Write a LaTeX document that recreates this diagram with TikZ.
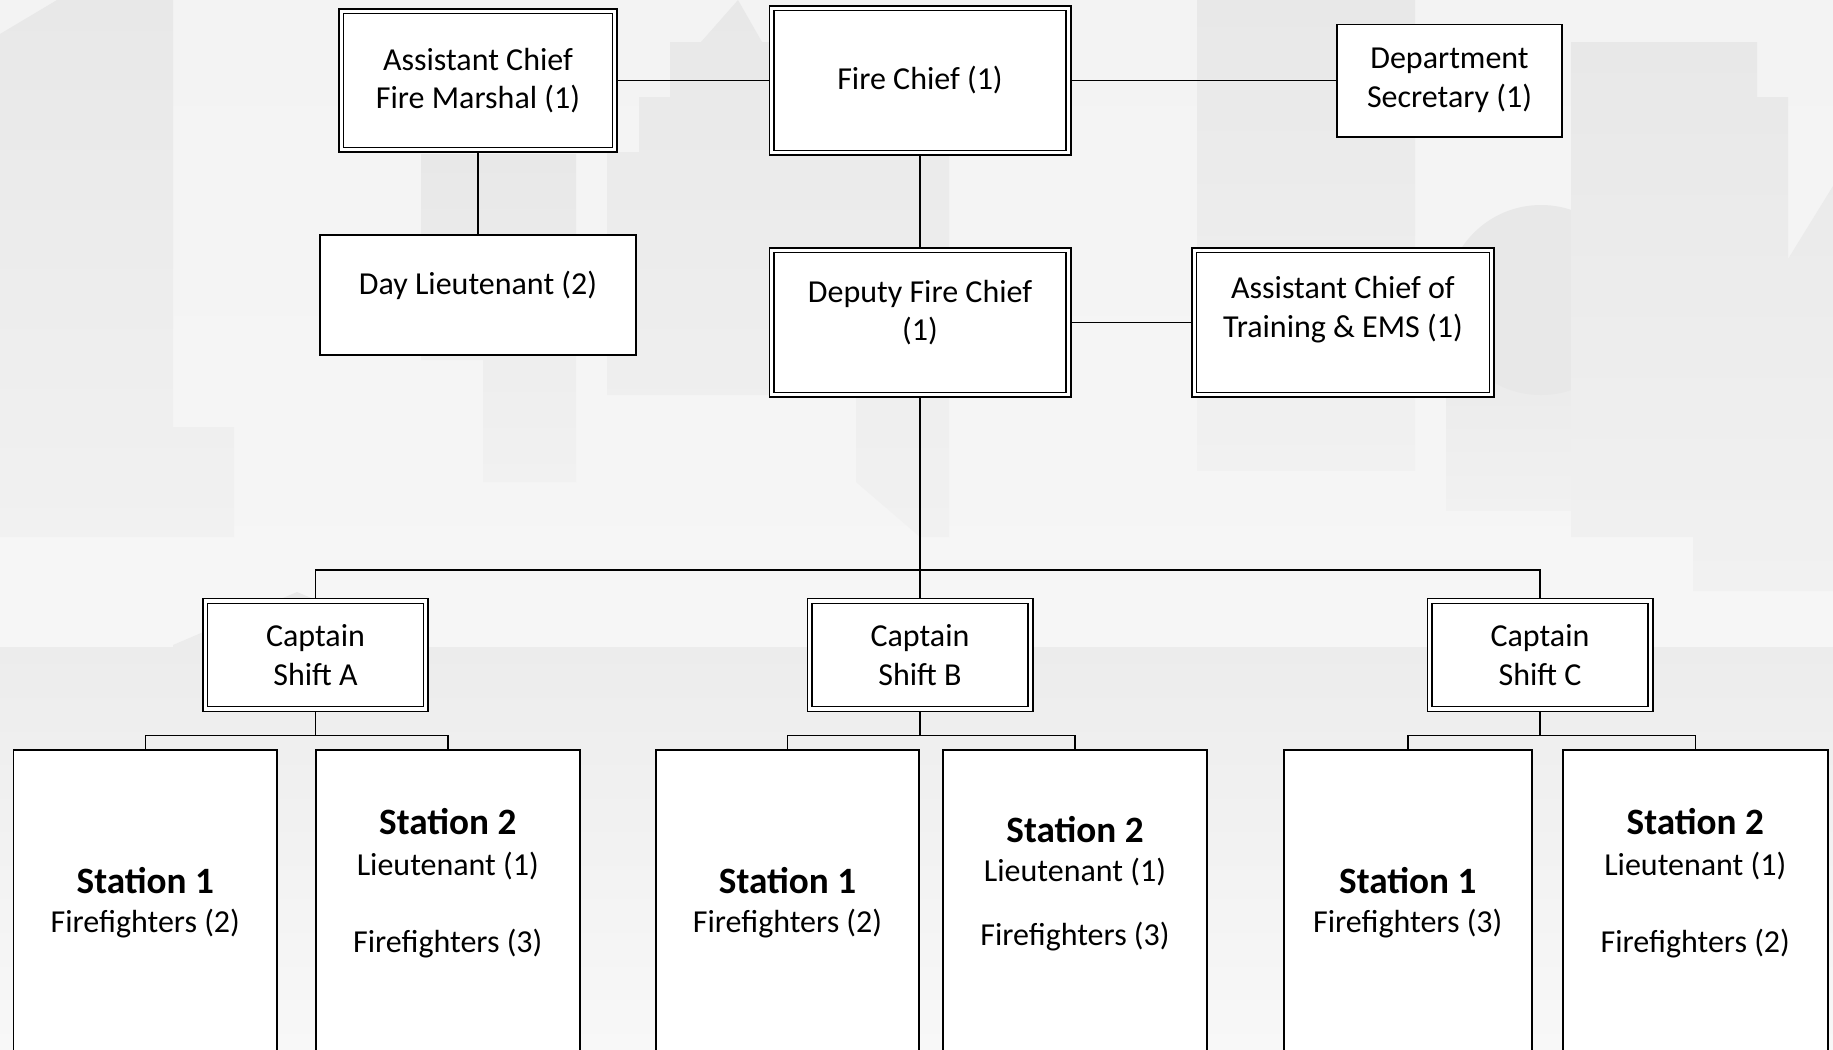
\documentclass[tikz,border=0pt]{standalone}
\usepackage{fontspec}
\setmainfont{Carlito}
\pgfdeclarelayer{skyline}
\pgfdeclarelayer{wires}
\pgfsetlayers{skyline,wires,main}
\definecolor{papertop}{HTML}{F3F3F3}
\definecolor{paperbottom}{HTML}{F8F8F8}
\definecolor{shadehi}{HTML}{E8E8E8}
\definecolor{shadelo}{HTML}{F1F1F1}
\definecolor{bandtop}{HTML}{ECECEC}
\begin{document}
\begin{tikzpicture}[x=0.5pt,y=-0.5pt,
  every node/.style={font=\fontsize{16}{19.2}\selectfont, inner sep=0pt, outer sep=0pt},
  dbox/.style={rectangle, draw=black, line width=0.8pt, double=white, double distance=1.6pt, fill=white},
  sbox/.style={rectangle, draw=black, line width=0.8pt, fill=white},
  wire/.style={draw=black, line width=0.75pt},
  words/.style={align=center},
  sttitle/.style={anchor=base, font=\bfseries\fontsize{18.6}{22}\selectfont},
  entry/.style={anchor=base},
  bldg/.style={top color=shadehi, bottom color=shadelo},
]
\useasboundingbox (0,0) rectangle (1833,1050);

% faint city skyline behind the chart
\begin{pgfonlayer}{skyline}
  \shade[top color=papertop, bottom color=paperbottom] (0,0) rectangle (1833,1050);
  \shade[bldg] (0,34) -- (57,0) -- (173,0) -- (173,427) -- (234,427) -- (234,537) -- (0,537) -- cycle;
  \shade[bldg] (421,154) -- (576,154) -- (576,482) -- (483,482) -- (483,360) -- (421,360) -- cycle;
  \shade[bldg] (607,395) -- (607,152) -- (639,152) -- (639,97) -- (670,97) -- (670,42) -- (701,42)
        -- (738,0) -- (762,42) -- (949,42) -- (949,537) -- (920,537) -- (856,482) -- (856,395) -- cycle;
  \shade[bldg] (1197,0) rectangle (1415,470);
  \shade[bldg] (1446,300) rectangle (1636,510);
  \fill[shadehi] (1541,300) circle [radius=47.5pt];
  \shade[bldg] (1571,537) -- (1571,42) -- (1757,42) -- (1757,97) -- (1788,97) -- (1788,259)
        -- (1833,186) -- (1833,591) -- (1693,591) -- (1693,537) -- cycle;
  \shade[bldg] (173,700) -- (173,645) -- (297,592) -- (330,606) -- (330,700) -- cycle;
  \shade[top color=bandtop, bottom color=paperbottom] (0,647) rectangle (1833,1050);
\end{pgfonlayer}

% command staff
\node[dbox, minimum width=136.8pt, minimum height=69.3pt, words] (acfm) at (478,80.5) {Assistant Chief\\Fire Marshal (1)};
\node[dbox, minimum width=148.3pt, minimum height=72.3pt] (fc) at (920,80.5) {Fire Chief (1)};
\node[sbox, minimum width=112.7pt, minimum height=56.2pt, words] (ds) at (1449.5,80.5) {Department\\Secretary (1)};
\node[sbox, minimum width=158.2pt, minimum height=60pt] (dl) at (478,295) {};
\node[words] (dltext) at (478,285.5) {Day Lieutenant (2)};
\node[dbox, minimum width=148.3pt, minimum height=72.3pt] (dfc) at (920,322.5) {};
\node[words] (dfctext) at (920,312.7) {Deputy Fire Chief\\(1)};
\node[dbox, minimum width=148.8pt, minimum height=72.3pt] (act) at (1343,322.5) {};
\node[words] (acttext) at (1343,309.7) {Assistant Chief of\\Training \& EMS (1)};

% shift captains
\node[dbox, minimum width=110.3pt, minimum height=54pt, words] (capA) at (315.5,655) {Captain\\Shift A};
\node[dbox, minimum width=110.3pt, minimum height=54pt, words] (capB) at (920,655) {Captain\\Shift B};
\node[dbox, minimum width=110.3pt, minimum height=54pt, words] (capC) at (1540,655) {Captain\\Shift C};

% stations (boxes run past the lower edge)
\node[sbox, minimum width=131.8pt, minimum height=184.8pt] (sA1) at (145.3,935) {};
\node[sbox, minimum width=131.9pt, minimum height=184.8pt] (sA2) at (447.8,935) {};
\node[sbox, minimum width=131.7pt, minimum height=184.8pt] (sB1) at (787.5,935) {};
\node[sbox, minimum width=131.8pt, minimum height=184.8pt] (sB2) at (1075,935) {};
\node[sbox, minimum width=124pt, minimum height=184.8pt] (sC1) at (1407.8,935) {};
\node[sbox, minimum width=132.5pt, minimum height=184.8pt] (sC2) at (1695.3,935) {};

\node[sttitle] (tA1) at (145.3,893) {Station 1};
\node[entry] (fA1) at (145.3,932.5) {Firefighters (2)};
\node[sttitle] (tA2) at (447.8,834.5) {Station 2};
\node[entry] (lA2) at (447.8,875.5) {Lieutenant (1)};
\node[entry] (fA2) at (447.8,952) {Firefighters (3)};

\node[sttitle] (tB1) at (787.5,893) {Station 1};
\node[entry] (fB1) at (787.5,932.5) {Firefighters (2)};
\node[sttitle] (tB2) at (1075,842.5) {Station 2};
\node[entry] (lB2) at (1075,881.5) {Lieutenant (1)};
\node[entry] (fB2) at (1075,945.5) {Firefighters (3)};

\node[sttitle] (tC1) at (1407.8,893) {Station 1};
\node[entry] (fC1) at (1407.8,932.5) {Firefighters (3)};
\node[sttitle] (tC2) at (1695.3,834.5) {Station 2};
\node[entry] (lC2) at (1695.3,875.5) {Lieutenant (1)};
\node[entry] (fC2) at (1695.3,952) {Firefighters (2)};

% connectors
\coordinate (trunk) at (920,569.8);
\coordinate (jA) at (315.5,735.3);
\coordinate (jB) at (920,735.3);
\coordinate (jC) at (1540,735.3);
\begin{pgfonlayer}{wires}
  \draw[wire] (acfm.east) -- (fc.west);
  \draw[wire] (fc.east) -- (ds.west);
  \draw[wire] (acfm.south) -- (dl.north);
  \draw[wire] (fc.south) -- (dfc.north);
  \draw[wire] (dfc.east) -- (act.west);
  \draw[wire] (dfc.south) -- (capB.north);
  \draw[wire] (capA.north) |- (trunk) -| (capC.north);
  \draw[wire] (capA.south) -- (jA);
  \draw[wire] (sA1.north) |- (jA) -| (sA2.north);
  \draw[wire] (capB.south) -- (jB);
  \draw[wire] (sB1.north) |- (jB) -| (sB2.north);
  \draw[wire] (capC.south) -- (jC);
  \draw[wire] (sC1.north) |- (jC) -| (sC2.north);
\end{pgfonlayer}
\end{tikzpicture}
\end{document}
